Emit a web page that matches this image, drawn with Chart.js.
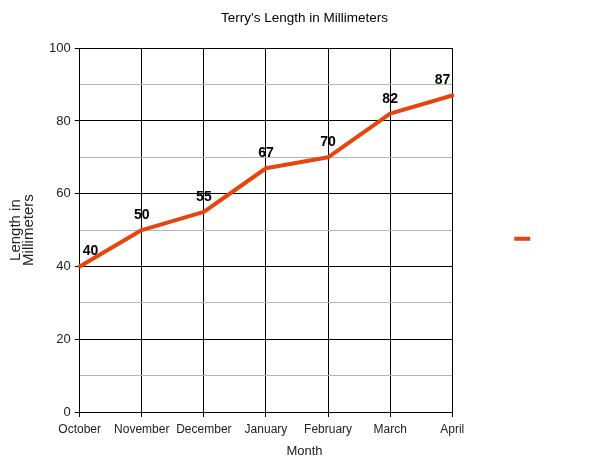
<!DOCTYPE html>
<html>
<head>
<meta charset="utf-8">
<script src="https://cdn.jsdelivr.net/npm/chart.js@4/dist/chart.umd.min.js"></script>
<style>
  html, body { margin: 0; padding: 0; background: #fff; }
  #wrap { width: 600px; height: 463px; }
</style>
</head>
<body>
<div id="wrap"><canvas id="chart"></canvas></div>
<script>
const months = ['October', 'November', 'December', 'January', 'February', 'March', 'April'];
const lengths = [40, 50, 55, 67, 70, 82, 87];
const yTicks = [0, 20, 40, 60, 80, 100];

const lineColor = '#e8450e';
const font = "Arial, 'Liberation Sans', sans-serif";

// draws the value above each point
const valueLabels = {
  id: 'valueLabels',
  afterDatasetsDraw(chart) {
    const { ctx } = chart;
    const meta = chart.getDatasetMeta(0);
    const last = meta.data.length - 1;
    ctx.save();
    ctx.font = 'bold 14px ' + font;
    ctx.fillStyle = '#000';
    ctx.textBaseline = 'bottom';
    meta.data.forEach((pt, i) => {
      let x = pt.x;
      ctx.textAlign = 'center';
      if (i === 0) { ctx.textAlign = 'left'; x += 3; }
      if (i === last) { ctx.textAlign = 'right'; x -= 2; }
      ctx.fillText(String(lengths[i]), x, pt.y - 8);
    });
    ctx.restore();
  }
};

new Chart(document.getElementById('chart'), {
  type: 'line',
  data: {
    labels: months,
    datasets: [{
      label: '',
      data: lengths,
      borderColor: lineColor,
      backgroundColor: lineColor,
      borderWidth: 4,
      borderCapStyle: 'round',
      borderJoinStyle: 'round',
      pointRadius: 0,
      pointHoverRadius: 0,
      pointStyle: 'line',
      tension: 0
    }]
  },
  options: {
    responsive: true,
    maintainAspectRatio: false,
    animation: false,
    layout: { padding: { top: 0, left: 9, right: 0, bottom: 2 } },
    plugins: {
      title: {
        display: true,
        text: "Terry's Length in Millimeters",
        color: '#000',
        font: { family: font, size: 13.5, weight: 'normal' },
        padding: { top: 10, bottom: 22 }
      },
      // x axis name, centred on the whole page like the original
      subtitle: {
        display: true,
        position: 'bottom',
        text: 'Month',
        color: '#222',
        font: { family: font, size: 13, weight: 'normal' },
        padding: { top: 2.6, bottom: 1.4 }
      },
      legend: {
        position: 'right',
        // empty title only pushes the marker down a little
        title: { display: true, text: ' ', font: { size: 12 }, padding: { top: 2, bottom: 0 } },
        labels: {
          usePointStyle: true,
          pointStyleWidth: 16,
          boxHeight: 4,
          padding: 62,
          color: '#000',
          font: { family: font, size: 122 }
        }
      },
      tooltip: { enabled: false }
    },
    scales: {
      x: {
        offset: false,
        border: { color: '#000', width: 1 },
        grid: { color: '#000', lineWidth: 1, tickLength: 5, tickColor: '#000' },
        ticks: {
          color: '#222',
          font: { family: font, size: 12 },
          maxRotation: 0,
          autoSkip: false,
          padding: 5
        }
      },
      y: {
        min: 0,
        max: 100,
        border: { color: '#000', width: 1 },
        grid: {
          color: c => (c.tick && c.tick.value % 20 === 0 ? '#000' : '#b5b5b5'),
          tickColor: c => (c.tick && c.tick.value % 20 === 0 ? '#000' : 'rgba(0,0,0,0)'),
          tickLength: 5,
          lineWidth: 1
        },
        ticks: {
          stepSize: 10,
          color: '#222',
          font: { family: font, size: 13 },
          padding: 4,
          callback: v => (yTicks.includes(v) ? v : '')
        },
        title: {
          display: true,
          text: ['Length in', 'Millimeters'],
          color: '#222',
          font: { family: font, size: 15, lineHeight: 0.9 },
          padding: { top: 0, bottom: 9 }
        }
      }
    }
  },
  plugins: [valueLabels]
});
</script>
</body>
</html>
